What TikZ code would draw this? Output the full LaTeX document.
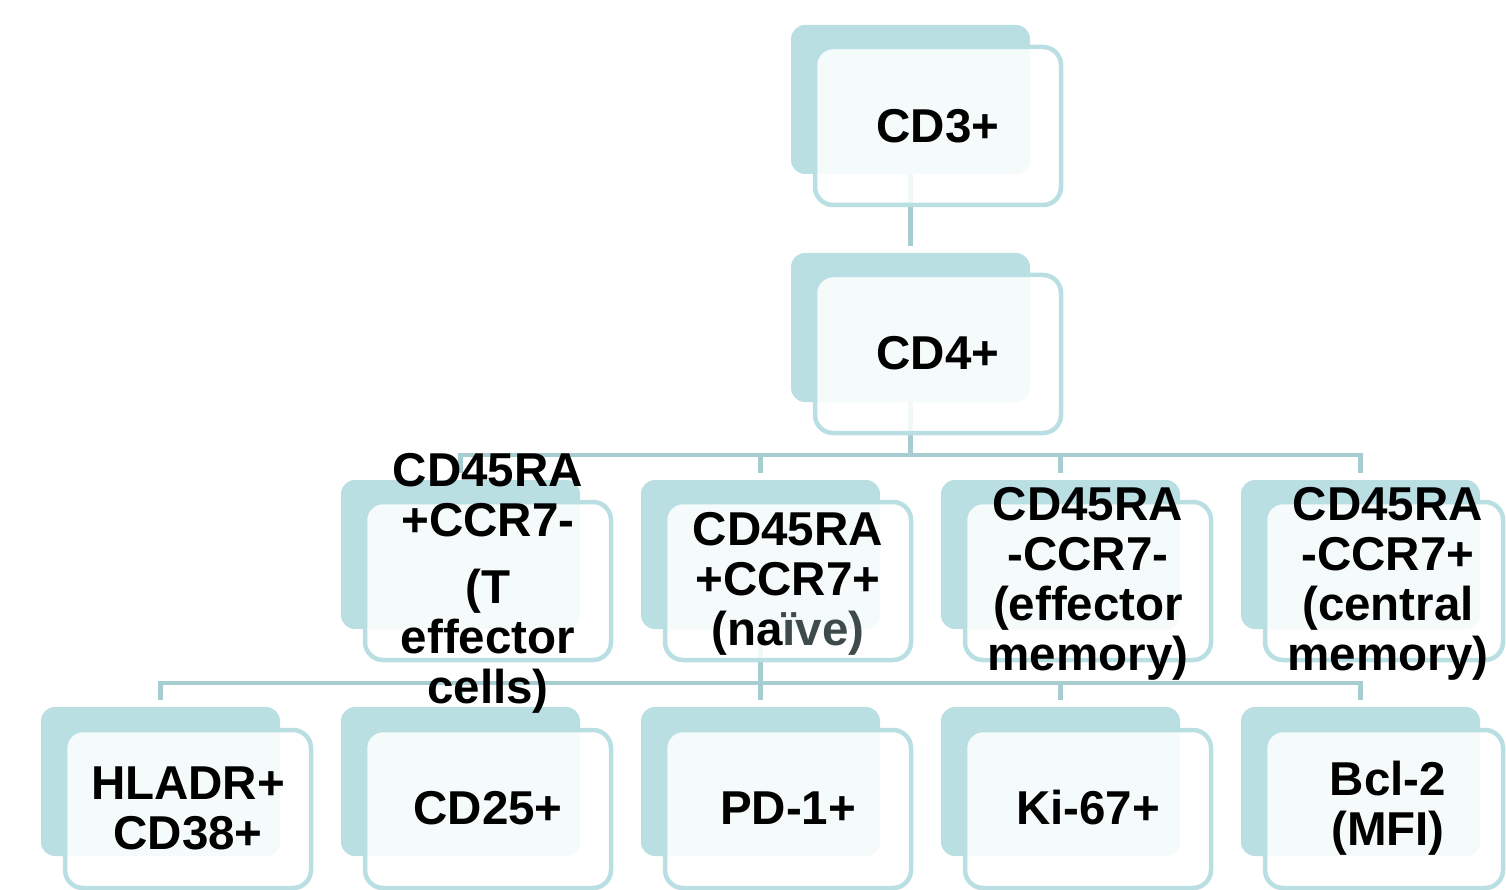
\documentclass[tikz,border=0pt]{standalone}
\usepackage{fontspec}
\setmainfont{Liberation Sans}
\usetikzlibrary{calc}
\definecolor{boxteal}{HTML}{B9DFE3}
\definecolor{linkteal}{HTML}{A8CDD0}
\definecolor{naivegray}{HTML}{3F4B4B}
\begin{document}
\begin{tikzpicture}[x=1pt,y=-1pt,
  backbox/.style={fill=boxteal, rounded corners=14pt, minimum width=239pt, minimum height=149pt, inner sep=0pt, outer sep=0pt, anchor=north west},
  frontbox/.style={draw=boxteal, line width=4.5pt, fill=white, fill opacity=0.86, rounded corners=18pt, minimum width=246pt, minimum height=158pt, inner sep=0pt, outer sep=0pt, anchor=north west},
  lastfront/.style={frontbox, minimum width=238pt},
  linkline/.style={draw=linkteal, line width=4.5pt},
  label/.style={font=\fontsize{47.5}{50}\selectfont\bfseries, align=center, text=black, inner sep=0pt}
]
\useasboundingbox (0,0) rectangle (1506,890);
% back boxes
\node[backbox] (cd3b) at (791,25) {};
\node[backbox] (cd4b) at (791,253) {};
\node[backbox] (tab) at (341,480) {};
\node[backbox] (tbb) at (641,480) {};
\node[backbox] (tcb) at (941,480) {};
\node[backbox] (tdb) at (1241,480) {};
\node[backbox] (fab) at (41,707) {};
\node[backbox] (fbb) at (341,707) {};
\node[backbox] (fcb) at (641,707) {};
\node[backbox] (fdb) at (941,707) {};
\node[backbox] (feb) at (1241,707) {};
% bus coordinates
\coordinate (busA) at (910,455);
\coordinate (busB) at (760,683);
% connectors
\draw[linkline] (cd3b.south) -- ($(cd4b.north)+(0,-7)$);
\draw[linkline] (cd4b.south) -- (cd4b.south |- busA);
\draw[linkline] ($(tab.north)+(0,-7)$) |- (busA) -| ($(tdb.north)+(0,-7)$);
\draw[linkline] (busA -| tbb.north) -- ($(tbb.north)+(0,-7)$);
\draw[linkline] (busA -| tcb.north) -- ($(tcb.north)+(0,-7)$);
\draw[linkline] (tbb.south) -- ($(fcb.north)+(0,-7)$);
\draw[linkline] ($(fab.north)+(0,-7)$) |- (busB) -| ($(feb.north)+(0,-7)$);
\draw[linkline] (busB -| fbb.north) -- ($(fbb.north)+(0,-7)$);
\draw[linkline] (busB -| fdb.north) -- ($(fdb.north)+(0,-7)$);
% front boxes
\node[frontbox] (cd3f) at (815,47) {};
\node[frontbox] (cd4f) at (815,275) {};
\node[frontbox] (taf) at (365,502) {};
\node[frontbox] (tbf) at (665,502) {};
\node[frontbox] (tcf) at (965,502) {};
\node[lastfront] (tdf) at (1265,502) {};
\node[frontbox] (faf) at (65,730) {};
\node[frontbox] (fbf) at (365,730) {};
\node[frontbox] (fcf) at (665,730) {};
\node[frontbox] (fdf) at (965,730) {};
\node[lastfront] (fef) at (1265,730) {};
% labels
\node[label] (cd3t) at (938,126) {CD3+};
\node[label] (cd4t) at (938,353) {CD4+};
\node[label] (tat) at (488,583) {CD45RA\\+CCR7-\\[17pt](T\\effector\\cells)};
\node[label] (tbt) at (788,584) {CD45RA\\+CCR7+\\(na\textcolor{naivegray}{ïve)}};
\node[label] (tct) at (1088,584) {CD45RA\\-CCR7-\\(effector\\memory)};
\node[label] (tdt) at (1388,584) {CD45RA\\-CCR7+\\(central\\memory)};
\node[label] (fat) at (188,808) {HLADR+\\CD38+};
\node[label] (fbt) at (488,808) {CD25+};
\node[label] (fct) at (788,808) {PD-1+};
\node[label] (fdt) at (1088,808) {Ki-67+};
\node[label] (fet) at (1388,808) {Bcl-2\\(MFI)};
\end{tikzpicture}
\end{document}
